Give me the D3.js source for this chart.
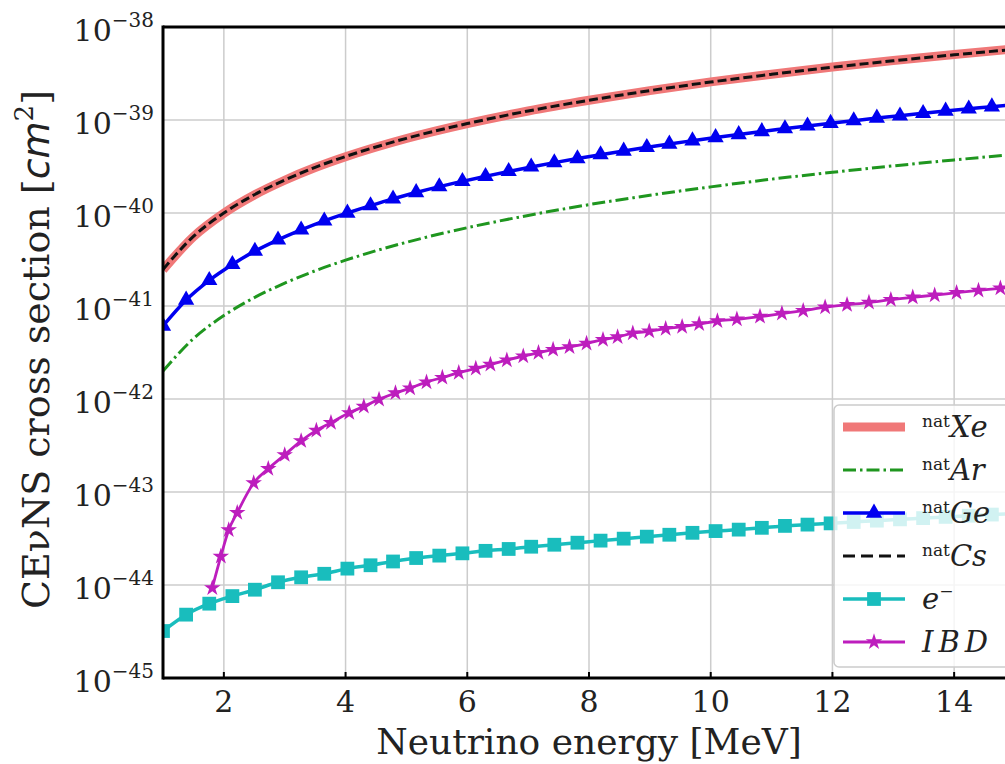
<!DOCTYPE html>
<html>
<head>
<meta charset="utf-8">
<script src="https://cdn.jsdelivr.net/npm/d3@7/dist/d3.min.js"></script>
<style>
  body { margin: 0; background: #fff; }
  svg { display: block; }
  text { font-family: "DejaVu Serif", serif; fill: #222; }
</style>
</head>
<body>
<svg width="1005" height="764"></svg>
<script>
// energies (MeV) for the smooth curves without markers
var lineEnergies = [1, 1.5, 2, 2.5, 3, 3.5, 4, 5, 6, 7, 8, 9, 10, 11, 12, 13, 14, 15];
var xeValues = [2.45e-41, 5.56e-41, 9.94e-41, 1.56e-40, 2.25e-40, 3.08e-40, 4.03e-40, 6.33e-40, 9.14e-40,
                1.25e-39, 1.63e-39, 2.07e-39, 2.57e-39, 3.11e-39, 3.71e-39, 4.36e-39, 5.06e-39, 5.82e-39];
var csValues = [2.47e-41, 5.6e-41, 1.0e-40, 1.57e-40, 2.26e-40, 3.1e-40, 4.05e-40, 6.35e-40, 9.15e-40,
                1.25e-39, 1.63e-39, 2.07e-39, 2.56e-39, 3.1e-39, 3.69e-39, 4.33e-39, 5.02e-39, 5.76e-39];
var arValues = [2.0e-42, 4.46e-42, 7.89e-42, 1.23e-41, 1.76e-41, 2.39e-41, 3.11e-41, 4.84e-41, 6.95e-41,
                9.42e-41, 1.23e-40, 1.55e-40, 1.91e-40, 2.31e-40, 2.74e-40, 3.21e-40, 3.72e-40, 4.27e-40];

// energies of the marker points (Ge and e-)
var markEnergies = [1.00, 1.38, 1.76, 2.14, 2.51, 2.89, 3.27, 3.65, 4.03, 4.41, 4.78, 5.16, 5.54, 5.92, 6.30,
                    6.68, 7.05, 7.43, 7.81, 8.19, 8.57, 8.95, 9.32, 9.70, 10.08, 10.46, 10.84, 11.22, 11.59,
                    11.97, 12.35, 12.73, 13.11, 13.49, 13.86, 14.24, 14.62, 15.00];
var geValues = [6.1e-42, 1.16e-41, 1.89e-41, 2.80e-41, 3.89e-41, 5.15e-41, 6.59e-41, 8.23e-41, 1.00e-40,
                1.20e-40, 1.42e-40, 1.66e-40, 1.92e-40, 2.19e-40, 2.48e-40, 2.80e-40, 3.13e-40, 3.48e-40,
                3.85e-40, 4.24e-40, 4.65e-40, 5.08e-40, 5.53e-40, 5.99e-40, 6.48e-40, 6.99e-40, 7.52e-40,
                8.07e-40, 8.64e-40, 9.23e-40, 9.84e-40, 1.05e-39, 1.11e-39, 1.18e-39, 1.25e-39, 1.32e-39,
                1.39e-39, 1.47e-39];
var elValues = [3.2e-45, 4.8e-45, 6.3e-45, 7.6e-45, 8.9e-45, 1.07e-44, 1.21e-44, 1.32e-44, 1.5e-44, 1.63e-44,
                1.79e-44, 1.95e-44, 2.07e-44, 2.19e-44, 2.33e-44, 2.44e-44, 2.58e-44, 2.71e-44, 2.85e-44,
                3.0e-44, 3.15e-44, 3.31e-44, 3.47e-44, 3.64e-44, 3.8e-44, 3.94e-44, 4.12e-44, 4.32e-44,
                4.46e-44, 4.6e-44, 4.76e-44, 4.92e-44, 5.08e-44, 5.24e-44, 5.4e-44, 5.56e-44, 5.72e-44, 5.88e-44];

// IBD has its own sampling
var ibdEnergies = [1.81, 1.95, 2.08, 2.22, 2.49, 2.73, 3.00, 3.27, 3.52, 3.76, 4.06, 4.30, 4.55, 4.82, 5.06, 5.33,
                   5.59, 5.86, 6.14, 6.38, 6.65, 6.92, 7.17, 7.41, 7.68, 7.96, 8.23, 8.47, 8.72, 8.99, 9.26,
                   9.53, 9.81, 10.11, 10.43, 10.81, 11.17, 11.52, 11.88, 12.24, 12.60, 12.96, 13.32, 13.68,
                   14.04, 14.40, 14.76, 15.00];
var ibdValues = [9.3e-45, 2.03e-44, 3.9e-44, 6.0e-44, 1.25e-43, 1.78e-43, 2.51e-43, 3.55e-43, 4.6e-43, 5.55e-43,
                 7.1e-43, 8.3e-43, 9.9e-43, 1.16e-42, 1.31e-42, 1.52e-42, 1.7e-42, 1.92e-42, 2.13e-42, 2.35e-42,
                 2.62e-42, 2.89e-42, 3.14e-42, 3.4e-42, 3.63e-42, 3.95e-42, 4.35e-42, 4.65e-42, 5.1e-42,
                 5.35e-42, 5.7e-42, 6.0e-42, 6.4e-42, 6.9e-42, 7.2e-42, 7.7e-42, 8.3e-42, 8.9e-42, 9.7e-42,
                 1.03e-41, 1.09e-41, 1.17e-41, 1.24e-41, 1.31e-41, 1.39e-41, 1.47e-41, 1.55e-41, 1.61e-41];

var xTicks = [2, 4, 6, 8, 10, 12, 14];
var yExps = [-38, -39, -40, -41, -42, -43, -44, -45];

var svg = d3.select("svg");
var pLeft = 163, pRight = 1015, pTop = 27, pBottom = 678;

var x = d3.scaleLinear().domain([1, 15]).range([pLeft, pRight]);
var y = d3.scaleLog().domain([1e-45, 1e-38]).range([pBottom, pTop]);

svg.append("clipPath").attr("id", "plot")
  .append("rect").attr("x", pLeft).attr("y", pTop).attr("width", pRight - pLeft).attr("height", pBottom - pTop);

// grid
var grid = svg.append("g").attr("stroke", "#cccccc").attr("stroke-width", 1.5);
xTicks.forEach(function (t) {
  grid.append("line").attr("x1", x(t)).attr("x2", x(t)).attr("y1", pTop).attr("y2", pBottom);
});
yExps.forEach(function (e) {
  grid.append("line").attr("x1", pLeft).attr("x2", pRight).attr("y1", y(Math.pow(10, e))).attr("y2", y(Math.pow(10, e)));
});

function pts(xs, ys) { return xs.map(function (d, i) { return [d, ys[i]]; }); }
var line = d3.line().x(function (d) { return x(d[0]); }).y(function (d) { return y(d[1]); })
  .curve(d3.curveMonotoneX);

var plot = svg.append("g").attr("clip-path", "url(#plot)");

var xe = pts(lineEnergies, xeValues), cs = pts(lineEnergies, csValues), ar = pts(lineEnergies, arValues);
var ge = pts(markEnergies, geValues), el = pts(markEnergies, elValues), ibd = pts(ibdEnergies, ibdValues);

var colXe = "#f07878", colAr = "#1f961f", colGe = "#0000f0", colCs = "#111111", colEl = "#19bdbd", colIbd = "#bd1dbd";

plot.append("path").attr("d", line(xe)).attr("fill", "none").attr("stroke", colXe).attr("stroke-width", 9);
plot.append("path").attr("d", line(ar)).attr("fill", "none").attr("stroke", colAr).attr("stroke-width", 3)
  .attr("stroke-dasharray", "13,4,2.5,4");

plot.append("path").attr("d", line(ge)).attr("fill", "none").attr("stroke", colGe).attr("stroke-width", 3.5);
var tri = d3.symbol().type(d3.symbolTriangle).size(115);
plot.selectAll(".ge").data(ge).enter().append("path")
  .attr("d", tri).attr("fill", colGe)
  .attr("transform", function (d) { return "translate(" + x(d[0]) + "," + y(d[1]) + ")"; });

plot.append("path").attr("d", line(cs)).attr("fill", "none").attr("stroke", colCs).attr("stroke-width", 3)
  .attr("stroke-dasharray", "9,4");

plot.append("path").attr("d", line(el)).attr("fill", "none").attr("stroke", colEl).attr("stroke-width", 3.5);
var sq = d3.symbol().type(d3.symbolSquare).size(190);
plot.selectAll(".el").data(el).enter().append("path")
  .attr("d", sq).attr("fill", colEl)
  .attr("transform", function (d) { return "translate(" + x(d[0]) + "," + y(d[1]) + ")"; });

plot.append("path").attr("d", line(ibd)).attr("fill", "none").attr("stroke", colIbd).attr("stroke-width", 2.8);
var star = d3.symbol().type(d3.symbolStar).size(85);
plot.selectAll(".ibd").data(ibd).enter().append("path")
  .attr("d", star).attr("fill", colIbd)
  .attr("transform", function (d) { return "translate(" + x(d[0]) + "," + y(d[1]) + ")"; });

// spines and ticks
var ax = svg.append("g").attr("stroke", "#000").attr("stroke-width", 3);
ax.append("line").attr("x1", pLeft).attr("x2", pRight).attr("y1", pTop).attr("y2", pTop);
ax.append("line").attr("x1", pLeft).attr("x2", pRight).attr("y1", pBottom).attr("y2", pBottom);
ax.append("line").attr("x1", pLeft).attr("x2", pLeft).attr("y1", pTop - 1.5).attr("y2", pBottom + 1.5);
xTicks.forEach(function (t) {
  ax.append("line").attr("x1", x(t)).attr("x2", x(t)).attr("y1", pBottom).attr("y2", pBottom - 6).attr("stroke-width", 2);
});

xTicks.forEach(function (t) {
  svg.append("text").attr("x", x(t)).attr("y", pBottom + 34).attr("text-anchor", "middle")
    .attr("font-size", 30).text(t);
});
yExps.forEach(function (e) {
  var t = svg.append("text").attr("x", pLeft - 9).attr("y", y(Math.pow(10, e)) + 14)
    .attr("text-anchor", "end").attr("font-size", 30);
  t.append("tspan").text("10");
  t.append("tspan").attr("dy", -14).attr("font-size", 20).text("\u2212" + (-e));
});

svg.append("text").attr("x", (pLeft + pRight) / 2).attr("y", 754).attr("text-anchor", "middle")
  .attr("font-size", 36).text("Neutrino energy [MeV]");

var yl = svg.append("text").attr("transform", "translate(49," + ((pTop + pBottom) / 2 - 3) + ") rotate(-90)")
  .attr("text-anchor", "middle").attr("font-size", 38);
yl.append("tspan").text("CE\u03bdNS cross section [");
yl.append("tspan").attr("font-family", "DejaVu Sans").attr("font-style", "italic").text("cm");
yl.append("tspan").attr("dy", -16).attr("font-size", 26).text("2");
yl.append("tspan").attr("dy", 16).text("]");

// legend
var lg = svg.append("g");
lg.append("rect").attr("x", 834).attr("y", 405).attr("width", 176).attr("height", 262).attr("rx", 5)
  .attr("fill", "#fff").attr("fill-opacity", 0.8).attr("stroke", "#cccccc").attr("stroke-width", 1.5);

var legendItems = [
  { sup: "nat", name: "Xe", color: colXe, width: 9, dash: null, sym: null },
  { sup: "nat", name: "Ar", color: colAr, width: 3, dash: "13,4,2.5,4", sym: null },
  { sup: "nat", name: "Ge", color: colGe, width: 3.5, dash: null, sym: tri },
  { sup: "nat", name: "Cs", color: colCs, width: 3, dash: "12,6", sym: null },
  { sup: null, name: "e", color: colEl, width: 3.5, dash: null, sym: sq },
  { sup: null, name: "IBD", color: colIbd, width: 2.8, dash: null, sym: star }
];
legendItems.forEach(function (d, i) {
  var ly = 427 + i * 43;
  lg.append("line").attr("x1", 843).attr("x2", 905).attr("y1", ly).attr("y2", ly)
    .attr("stroke", d.color).attr("stroke-width", d.width).attr("stroke-dasharray", d.dash);
  if (d.sym) lg.append("path").attr("d", d.sym).attr("fill", d.color).attr("transform", "translate(874," + ly + ")");
  var t = lg.append("text").attr("x", 922).attr("y", ly + 10).attr("font-size", 29);
  if (d.sup) {
    t.append("tspan").attr("font-size", 17).attr("dy", -10).text(d.sup);
    t.append("tspan").attr("dy", 10).attr("font-style", "italic").text(d.name);
  } else if (d.name === "e") {
    t.append("tspan").attr("font-style", "italic").text("e");
    t.append("tspan").attr("font-size", 17).attr("dy", -12).text("\u2212");
  } else {
    t.append("tspan").attr("font-style", "italic").attr("letter-spacing", 5).text(d.name);
  }
});
</script>
</body>
</html>
